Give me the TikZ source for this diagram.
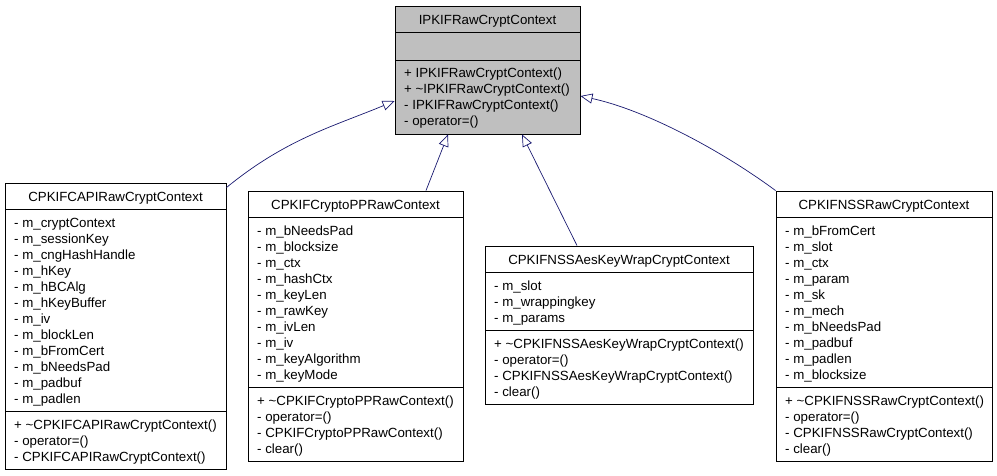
\documentclass[tikz,border=0pt]{standalone}
\usepackage{fontspec}
\setmainfont{Liberation Sans}
\usepackage{tikz}
\usetikzlibrary{arrows.meta}
\definecolor{edgeblue}{HTML}{191970}
\definecolor{basegray}{HTML}{BFBFBF}

\begin{document}
\begin{tikzpicture}[x=1pt,y=-1pt,
    classbox/.style={draw=black,line width=0.9pt,fill=white,inner sep=0pt},
    sep/.style={draw=black,line width=0.9pt},
    title/.style={font=\fontsize{13.3}{16}\selectfont,inner sep=0pt,text height=13pt,text depth=3pt},
    member/.style={anchor=west,font=\fontsize{13.3}{16}\selectfont,inner sep=0pt,text height=13pt,text depth=3pt},
    inherit/.style={draw=edgeblue,line width=0.7pt,-{Triangle[open,length=12pt,width=10pt]}}]
        \useasboundingbox (0,0) rectangle (997,475);

        % base class
        \node[classbox,fill=basegray,minimum width=185pt,minimum height=128pt] (base) at (487.5,70) {};
        \draw[sep] (395,32)--(580,32) (395,60)--(580,60);
        \node[title] (base-t) at (487.5,19) {IPKIFRawCryptContext};
        \foreach \m [count=\i from 0] in {+ IPKIFRawCryptContext(),+ \textasciitilde IPKIFRawCryptContext(),- IPKIFRawCryptContext(),- operator=()}
            \node[member] (base-m\i) at (404,72+16*\i) {\m};

        % CAPI
        \node[classbox,minimum width=221pt,minimum height=286pt] (capi) at (115.5,326) {};
        \draw[sep] (5,209)--(226,209) (5,411)--(226,411);
        \node[title] (capi-t) at (115.5,196) {CPKIFCAPIRawCryptContext};
        \foreach \m [count=\i from 0] in {- m\_cryptContext,- m\_sessionKey,- m\_cngHashHandle,- m\_hKey,- m\_hBCAlg,- m\_hKeyBuffer,- m\_iv,- m\_blockLen,- m\_bFromCert,- m\_bNeedsPad,- m\_padbuf,- m\_padlen}
            \node[member] (capi-a\i) at (14,222+16*\i) {\m};
        \foreach \m [count=\i from 0] in {+ \textasciitilde CPKIFCAPIRawCryptContext(),- operator=(),- CPKIFCAPIRawCryptContext()}
            \node[member] (capi-m\i) at (14,424+16*\i) {\m};

        % CryptoPP
        \node[classbox,minimum width=215pt,minimum height=270pt] (cpp) at (355.5,326) {};
        \draw[sep] (248,217)--(463,217) (248,387)--(463,387);
        \node[title] (cpp-t) at (355.5,204) {CPKIFCryptoPPRawContext};
        \foreach \m [count=\i from 0] in {- m\_bNeedsPad,- m\_blocksize,- m\_ctx,- m\_hashCtx,- m\_keyLen,- m\_rawKey,- m\_ivLen,- m\_iv,- m\_keyAlgorithm,- m\_keyMode}
            \node[member] (cpp-a\i) at (257,230+16*\i) {\m};
        \foreach \m [count=\i from 0] in {+ \textasciitilde CPKIFCryptoPPRawContext(),- operator=(),- CPKIFCryptoPPRawContext(),- clear()}
            \node[member] (cpp-m\i) at (257,400+16*\i) {\m};

        % NSS AES key wrap
        \node[classbox,minimum width=268pt,minimum height=158pt] (aes) at (619,325) {};
        \draw[sep] (485,272)--(753,272) (485,330)--(753,330);
        \node[title] (aes-t) at (619,259) {CPKIFNSSAesKeyWrapCryptContext};
        \foreach \m [count=\i from 0] in {- m\_slot,- m\_wrappingkey,- m\_params}
            \node[member] (aes-a\i) at (494,285+16*\i) {\m};
        \foreach \m [count=\i from 0] in {+ \textasciitilde CPKIFNSSAesKeyWrapCryptContext(),- operator=(),- CPKIFNSSAesKeyWrapCryptContext(),- clear()}
            \node[member] (aes-m\i) at (494,343+16*\i) {\m};

        % NSS raw
        \node[classbox,minimum width=216pt,minimum height=270pt] (nss) at (884,326) {};
        \draw[sep] (776,217)--(992,217) (776,387)--(992,387);
        \node[title] (nss-t) at (884,204) {CPKIFNSSRawCryptContext};
        \foreach \m [count=\i from 0] in {- m\_bFromCert,- m\_slot,- m\_ctx,- m\_param,- m\_sk,- m\_mech,- m\_bNeedsPad,- m\_padbuf,- m\_padlen,- m\_blocksize}
            \node[member] (nss-a\i) at (785,230+16*\i) {\m};
        \foreach \m [count=\i from 0] in {+ \textasciitilde CPKIFNSSRawCryptContext(),- operator=(),- CPKIFNSSRawCryptContext(),- clear()}
            \node[member] (nss-m\i) at (785,400+16*\i) {\m};

        % inheritance
        \draw[inherit] ([yshift=-5pt]capi.north east) .. controls +(60,-49) and +(-60,25) .. ([yshift=-31pt]base.west);
        \draw[inherit] ([xshift=70.5pt]cpp.north) -- ([xshift=-39.5pt]base.south);
        \draw[inherit] ([xshift=-42pt]aes.north) -- ([xshift=34.5pt]base.south);
        \draw[inherit] (nss.north west) .. controls +(-54,-40) and +(65,14) .. ([yshift=-26pt]base.east);
\end{tikzpicture}
\end{document}
